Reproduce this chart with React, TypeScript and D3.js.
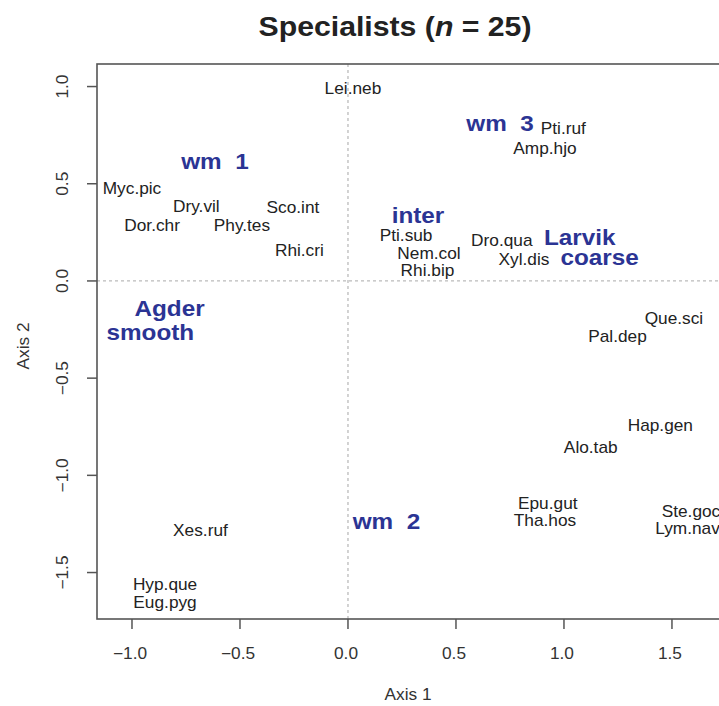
import React from "react";
import * as d3 from "d3";

const speciesNames = [
  "Lei.neb", "Myc.pic", "Dry.vil", "Sco.int", "Dor.chr", "Phy.tes", "Rhi.cri",
  "Pti.ruf", "Amp.hjo", "Pti.sub", "Nem.col", "Rhi.bip", "Dro.qua", "Xyl.dis",
  "Xes.ruf", "Hyp.que", "Eug.pyg", "Que.sci", "Pal.dep", "Hap.gen", "Alo.tab",
  "Epu.gut", "Tha.hos", "Ste.goc", "Lym.nav",
];
const speciesX = [
  0.023, -1.0, -0.702, -0.255, -0.907, -0.491, -0.225,
  0.997, 0.912, 0.269, 0.375, 0.368, 0.712, 0.815,
  -0.683, -0.847, -0.847, 1.509, 1.248, 1.446, 1.124,
  0.925, 0.912, 1.588, 1.572,
];
const speciesY = [
  0.988, 0.478, 0.382, 0.377, 0.284, 0.288, 0.159,
  0.785, 0.683, 0.233, 0.142, 0.053, 0.211, 0.112,
  -1.281, -1.559, -1.655, -0.192, -0.283, -0.744, -0.856,
  -1.144, -1.233, -1.183, -1.272,
];

const envNames = ["wm  1", "wm  3", "inter", "Larvik", "coarse", "Agder", "smooth", "wm  2"];
const envX = [-0.616, 0.704, 0.324, 1.073, 1.165, -0.826, -0.915, 0.178];
const envY = [0.614, 0.811, 0.340, 0.228, 0.125, -0.140, -0.261, -1.233];

const xTicks = [-1.0, -0.5, 0.0, 0.5, 1.0, 1.5];
const yTicks = [-1.5, -1.0, -0.5, 0.0, 0.5, 1.0];

const W = 719;
const H = 706;
const left = 97;
const right = 740;
const top = 64;
const bottom = 619;

const FONT = "'Liberation Sans', Arial, Helvetica, sans-serif";
const STRETCH = 1.08;
const BLUE = "#2b3494";

export default function App() {
  const x = d3.scaleLinear().domain([-1.162, 1.815]).range([left, right]);
  const y = d3.scaleLinear().domain([-1.739, 1.116]).range([bottom, top]);

  const label = (
    txt: string,
    px: number,
    py: number,
    size: number,
    fill: string,
    weight: string,
    key: string
  ) => (
    <text
      key={key}
      transform={`translate(${px},${py}) scale(${STRETCH},1)`}
      textAnchor="middle"
      dy="0.35em"
      fontSize={size}
      fontWeight={weight}
      fill={fill}
      fontFamily={FONT}
      style={{ whiteSpace: "pre" }}
    >
      {txt}
    </text>
  );

  return (
    <svg
      width={W}
      height={H}
      style={{ position: "absolute", left: 0, top: 0, background: "#fff" }}
    >
      <rect x={0} y={0} width={W} height={H} fill="#fff" />
      {/* title */}
      <text
        transform={`translate(395,36) scale(${STRETCH},1)`}
        textAnchor="middle"
        fontSize={28}
        fontWeight="bold"
        fill="#222"
        fontFamily={FONT}
      >
        Specialists (<tspan fontStyle="italic">n</tspan> = 25)
      </text>

      {/* zero lines */}
      <line x1={x(0)} x2={x(0)} y1={top} y2={bottom} stroke="#bbb" strokeWidth={1.3} strokeDasharray="3,3" />
      <line x1={left} x2={right} y1={y(0)} y2={y(0)} stroke="#bbb" strokeWidth={1.3} strokeDasharray="3,3" />

      {/* box */}
      <rect x={left} y={top} width={right - left} height={bottom - top} fill="none" stroke="#555" strokeWidth={1.6} />

      {/* x axis */}
      {xTicks.map((t) => (
        <g key={"xt" + t}>
          <line x1={x(t)} x2={x(t)} y1={bottom} y2={bottom + 10} stroke="#555" strokeWidth={1.5} />
          {label(d3.format(".1f")(t), x(t) - 2, 653, 16, "#333", "normal", "xl" + t)}
        </g>
      ))}
      {/* y axis */}
      {yTicks.map((t) => (
        <g key={"yt" + t}>
          <line x1={left - 10} x2={left} y1={y(t)} y2={y(t)} stroke="#555" strokeWidth={1.5} />
          <text
            transform={`translate(62,${y(t)}) rotate(-90) scale(${STRETCH},1)`}
            textAnchor="middle"
            dy="0.35em"
            fontSize={16}
            fill="#333"
            fontFamily={FONT}
          >
            {d3.format(".1f")(t)}
          </text>
        </g>
      ))}

      {/* axis titles */}
      {label("Axis 1", 408, 694, 16, "#333", "normal", "ax1")}
      <text
        transform={`translate(23,346) rotate(-90) scale(${STRETCH},1)`}
        textAnchor="middle"
        dy="0.35em"
        fontSize={16}
        fill="#333"
        fontFamily={FONT}
      >
        Axis 2
      </text>

      {/* species */}
      {speciesNames.map((n, i) => label(n, x(speciesX[i]), y(speciesY[i]), 16, "#222", "normal", "sp" + i))}

      {/* environmental labels */}
      {envNames.map((n, i) => label(n, x(envX[i]), y(envY[i]), 22.5, BLUE, "bold", "env" + i))}
    </svg>
  );
}
